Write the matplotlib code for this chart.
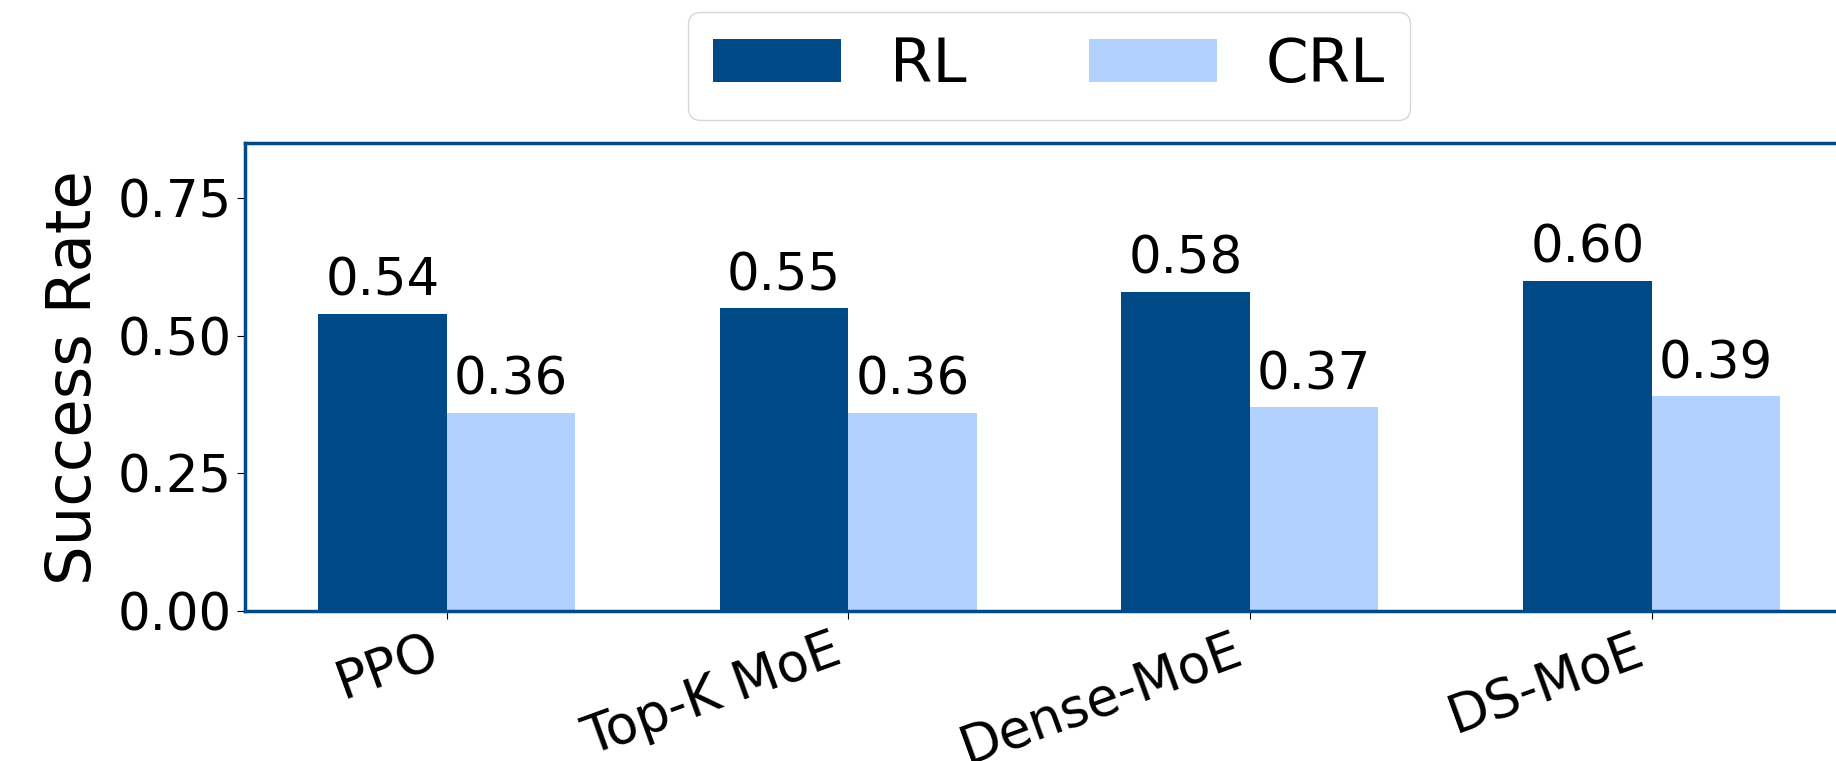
import matplotlib.pyplot as plt
import numpy as np

methods = ["PPO", "Top-K MoE", "Dense-MoE", "DS-MoE"]
rl = [0.54, 0.55, 0.58, 0.60]
crl = [0.36, 0.36, 0.37, 0.39]

dark = "#004b87"
light = "#b3d1ff"

fig = plt.figure(figsize=(18.36, 7.61), dpi=100)
ax = fig.add_axes([0.1334, 0.197, 0.876, 0.615])

x = np.arange(len(methods))
w = 0.32
b1 = ax.bar(x - w / 2, rl, w, color=dark, label="RL")
b2 = ax.bar(x + w / 2, crl, w, color=light, label="CRL")
ax.bar_label(b1, fmt="%.2f", padding=5, fontsize=37)
ax.bar_label(b2, fmt="%.2f", padding=5, fontsize=37)

ax.set_ylim(0, 0.85)
ax.set_yticks([0, 0.25, 0.5, 0.75])
ax.set_yticklabels(["0.00", "0.25", "0.50", "0.75"], fontsize=37)
ax.set_xticks(x)
ax.set_xticklabels(methods, rotation=20, ha="right", fontsize=38)
ax.tick_params(length=6)
ax.set_ylabel("Success Rate", fontsize=45, labelpad=10)

for s in ax.spines.values():
    s.set_color(dark)
    s.set_linewidth(2.5)

ax.legend(loc="lower center", bbox_to_anchor=(0.5, 0.985), ncol=2, fontsize=44,
          handlelength=2.1, handleheight=0.7, handletextpad=0.8,
          columnspacing=2.0, frameon=True, edgecolor="#cccccc", fancybox=True)

fig.savefig("out.png", dpi=100)
